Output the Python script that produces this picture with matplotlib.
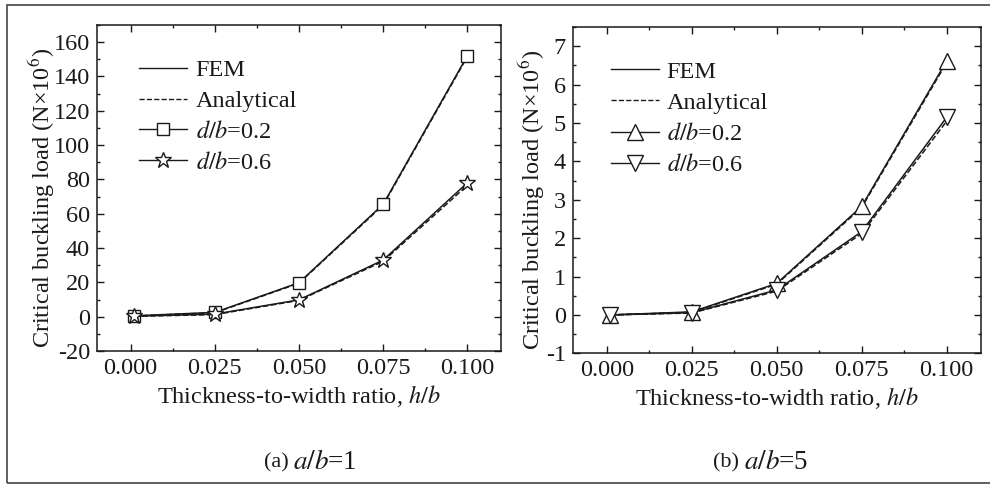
import matplotlib
matplotlib.use("Agg")
import matplotlib.pyplot as plt
from matplotlib.lines import Line2D
from matplotlib.patches import Rectangle
from matplotlib.ticker import MultipleLocator, FormatStrFormatter

plt.rcParams['font.family'] = ['Liberation Serif', 'DejaVu Serif']
plt.rcParams['mathtext.fontset'] = 'stix'
plt.rcParams['axes.unicode_minus'] = False

# thickness-to-width ratio h/b
hb = [0.001, 0.025, 0.05, 0.075, 0.1]

# (a) a/b = 1
fem_a_02 = [0.5, 2.5, 19.8, 65.5, 152.0]
ana_a_02 = [0.4, 2.3, 19.5, 65.0, 151.5]
fem_a_06 = [0.3, 1.5, 9.8, 33.0, 78.0]
ana_a_06 = [0.2, 1.2, 9.5, 32.3, 76.5]

# (b) a/b = 5
fem_b_02 = [0.0, 0.08, 0.82, 2.83, 6.62]
ana_b_02 = [0.0, 0.07, 0.80, 2.80, 6.58]
fem_b_06 = [0.0, 0.06, 0.65, 2.17, 5.15]
ana_b_06 = [0.0, 0.05, 0.62, 2.12, 5.05]

ylabel = 'Critical buckling load (N×10$^6$)'
xlabel = 'Thickness-to-width ratio, $h/b$'
ink = '#1a1a1a'
fs = 17.5


def style_axes(ax, ymaj, ymin, ylab_x):
    ax.set_xlim(-0.01, 0.11)
    ax.xaxis.set_major_locator(MultipleLocator(0.025))
    ax.xaxis.set_minor_locator(MultipleLocator(0.0125))
    ax.xaxis.set_major_formatter(FormatStrFormatter('%.3f'))
    ax.yaxis.set_major_locator(MultipleLocator(ymaj))
    ax.yaxis.set_minor_locator(MultipleLocator(ymin))
    ax.tick_params(which='both', direction='in', top=True, right=True,
                   width=1.0, color=ink, labelcolor=ink, labelsize=fs)
    ax.tick_params(which='major', length=5, pad=5)
    ax.tick_params(which='minor', length=2.5)
    for s in ax.spines.values():
        s.set_linewidth(1.1)
        s.set_color(ink)
    ax.set_xlabel(xlabel, fontsize=fs, color=ink, labelpad=3)
    ax.set_ylabel(ylabel, fontsize=fs, color=ink, va='center')
    ax.yaxis.set_label_coords(ylab_x, 0.47)


def draw_panel(ax, fem1, ana1, fem2, ana2, m1, m2, s1, s2):
    ax.plot(hb, ana1, '--', color=ink, lw=1.1)
    ax.plot(hb, ana2, '--', color=ink, lw=1.1)
    ax.plot(hb, fem1, '-', color=ink, lw=1.1, marker=m1, ms=s1,
            mfc='white', mec=ink, mew=1.0)
    ax.plot(hb, fem2, '-', color=ink, lw=1.1, marker=m2, ms=s2,
            mfc='white', mec=ink, mew=1.0)
    handles = [
        Line2D([], [], color=ink, lw=1.0, ls='-'),
        Line2D([], [], color=ink, lw=1.0, ls='--'),
        Line2D([], [], color=ink, lw=1.0, marker=m1, ms=s1, mfc='white', mec=ink),
        Line2D([], [], color=ink, lw=1.0, marker=m2, ms=s2, mfc='white', mec=ink),
    ]
    labels = ['FEM', 'Analytical', '$d/b$=0.2', '$d/b$=0.6']
    return handles, labels


fig = plt.figure(figsize=(9.9, 4.84), dpi=100)

ax1 = fig.add_axes([0.098, 0.2748, 0.408, 0.6735])
h, l = draw_panel(ax1, fem_a_02, ana_a_02, fem_a_06, ana_a_06, 's', '*', 8.5, 12)
ax1.set_ylim(-20, 170)
style_axes(ax1, 20, 10, -0.136)
ax1.legend(h, l, loc='upper left', bbox_to_anchor=(0.103, 0.895), frameon=False,
           fontsize=fs, handlelength=2.0, handletextpad=0.35, labelspacing=0.36,
           borderpad=0, borderaxespad=0, labelcolor=ink)

ax2 = fig.add_axes([0.5785, 0.270, 0.4121, 0.674])
h, l = draw_panel(ax2, fem_b_02, ana_b_02, fem_b_06, ana_b_06, '^', 'v', 11, 11)
ax2.set_ylim(-1, 7.5)
style_axes(ax2, 1, 0.5, -0.10)
ax2.legend(h, l, loc='upper left', bbox_to_anchor=(0.093, 0.897), frameon=False,
           fontsize=fs, handlelength=2.0, handletextpad=0.3, labelspacing=0.38,
           borderpad=0, borderaxespad=0, labelcolor=ink)

# captions
fig.text(289 / 990, 0.0434, '(a)', fontsize=16, color=ink, ha='right', va='center')
fig.text(293 / 990, 0.0434, '$a/b$=1', fontsize=19.5, color=ink, ha='left', va='center')
fig.text(739 / 990, 0.0434, '(b)', fontsize=16, color=ink, ha='right', va='center')
fig.text(744 / 990, 0.0434, '$a/b$=5', fontsize=19.5, color=ink, ha='left', va='center')

# outer frame around the figure (right side is cut off)
fig.patches.append(Rectangle((0.0066, 0.0027), 1.05, 0.986, transform=fig.transFigure,
                             fill=False, lw=1.2, ec='#444444', clip_on=False))

fig.savefig('out.png', dpi=100)
